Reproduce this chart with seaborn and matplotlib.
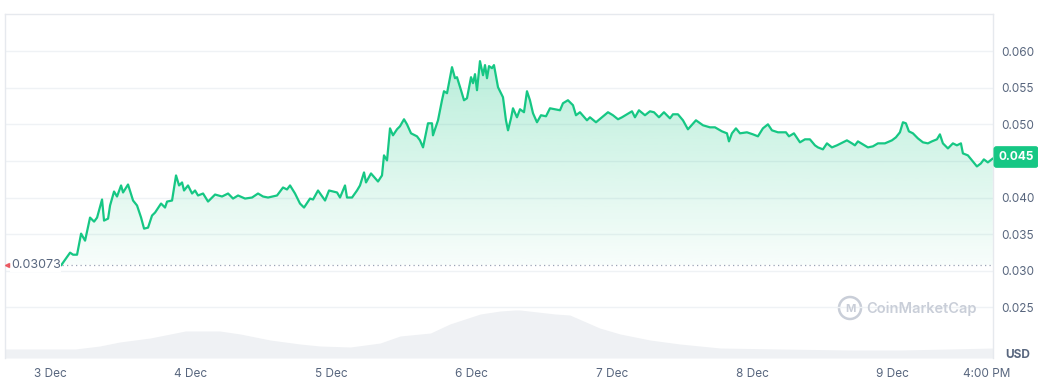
import numpy as np
import pandas as pd
import matplotlib
matplotlib.use("Agg")
import matplotlib.pyplot as plt
import seaborn as sns
from matplotlib.patches import Ellipse

# hours since 3 Dec 00:00 and price in USD
hours = [1.88, 2.56, 3.42, 3.93, 4.61, 5.30, 5.98, 6.83, 7.52, 8.03, 8.88, 9.22, 9.91, 10.25,
         10.93, 11.44, 12.13, 12.47, 13.32, 14.18, 14.86, 15.55, 16.06, 16.74, 17.42, 17.94,
         18.96, 19.64, 19.99, 20.84, 21.52, 22.04, 22.55, 22.89, 23.57, 24.26, 24.77, 25.28,
         26.14, 26.99, 28.19, 29.38, 30.41, 31.26, 32.12, 33.31, 34.51, 35.53, 36.38, 37.24,
         38.78, 39.80, 40.48, 41.00, 41.85, 42.70, 43.39, 44.41, 44.93, 45.78, 46.98, 47.66,
         49.03, 49.54, 50.39, 50.73, 51.59, 52.44, 52.95, 53.64, 53.98, 54.83, 56.03, 56.71,
         57.05, 57.57, 58.08, 58.59, 59.27, 59.78, 60.47, 60.98, 61.67, 62.69, 63.20, 63.72,
         64.57, 65.25, 65.42, 66.28, 66.96, 67.30, 67.82, 68.67, 69.18, 69.52, 70.21, 70.72,
         71.23, 71.92, 72.26, 72.60, 72.94, 73.45, 73.97, 74.31, 74.65, 74.99, 75.50, 75.84,
         76.53, 77.38, 77.89, 78.24, 78.75, 79.09, 79.77, 80.29, 80.97, 81.48, 81.99, 82.51,
         83.19, 83.87, 84.73, 85.41, 86.26, 87.12, 87.63, 88.48, 89.34, 89.85, 90.53, 91.73,
         92.24, 93.27, 94.29, 95.32, 96.17, 97.03, 97.71, 98.56, 99.42, 99.93, 100.61, 101.64,
         102.49, 103.18, 104.03, 104.88, 105.91, 106.42, 107.27, 108.13, 108.98, 110.35,
         111.55, 112.74, 113.60, 114.79, 115.65, 115.99, 116.50, 117.18, 117.87, 119.06,
         120.09, 120.94, 121.79, 122.65, 123.33, 124.36, 125.72, 126.24, 127.09, 128.12,
         128.97, 129.82, 130.68, 131.19, 132.04, 132.73, 133.58, 134.44, 135.46, 136.14,
         137.00, 137.51, 138.02, 138.88, 139.73, 140.58, 141.44, 142.63, 143.83, 144.51,
         145.20, 145.71, 146.22, 146.73, 147.42, 148.27, 149.13, 149.98, 150.66, 151.52,
         152.03, 152.54, 153.40, 154.25, 154.93, 155.62, 155.96, 156.81, 157.67, 158.35,
         159.03, 159.54, 160.22, 161.08]
prices = [0.03073, 0.03151, 0.03247, 0.03219, 0.03219, 0.03507, 0.03411, 0.03726, 0.03671,
          0.03726, 0.03973, 0.03685, 0.03712, 0.03891, 0.04082, 0.04014, 0.04165, 0.04069,
          0.04178, 0.03959, 0.03891, 0.03726, 0.03575, 0.03589, 0.03754, 0.03795, 0.03918,
          0.03863, 0.03945, 0.03959, 0.04302, 0.04165, 0.04206, 0.04096, 0.04165, 0.04055,
          0.04096, 0.04028, 0.04055, 0.03945, 0.04041, 0.04014, 0.04055, 0.03986, 0.04028,
          0.03986, 0.04000, 0.04055, 0.04014, 0.04000, 0.04028, 0.04137, 0.04110, 0.04165,
          0.04055, 0.03918, 0.03863, 0.03986, 0.03973, 0.04096, 0.03959, 0.04096, 0.04069,
          0.04000, 0.04165, 0.04000, 0.04000, 0.04096, 0.04165, 0.04343, 0.04206, 0.04329,
          0.04219, 0.04302, 0.04576, 0.04507, 0.04945, 0.04850, 0.04932, 0.04973, 0.05069,
          0.05000, 0.04877, 0.04836, 0.04781, 0.04685, 0.05014, 0.05014, 0.04850, 0.05055,
          0.05329, 0.05452, 0.05425, 0.05781, 0.05630, 0.05644, 0.05466, 0.05329, 0.05356,
          0.05644, 0.05562, 0.05685, 0.05466, 0.05863, 0.05671, 0.05809, 0.05630, 0.05795,
          0.05767, 0.05809, 0.05507, 0.05370, 0.05055, 0.04918, 0.05082, 0.05219, 0.05096,
          0.05206, 0.05165, 0.05452, 0.05329, 0.05151, 0.05028, 0.05124, 0.05110, 0.05219,
          0.05206, 0.05192, 0.05288, 0.05329, 0.05261, 0.05124, 0.05165, 0.05055, 0.05096,
          0.05028, 0.05096, 0.05165, 0.05124, 0.05069, 0.05096, 0.05137, 0.05178, 0.05096,
          0.05192, 0.05124, 0.05178, 0.05165, 0.05096, 0.05165, 0.05082, 0.05137, 0.05137,
          0.05055, 0.04932, 0.05055, 0.04987, 0.04959, 0.04959, 0.04904, 0.04877, 0.04767,
          0.04877, 0.04945, 0.04877, 0.04891, 0.04863, 0.04836, 0.04945, 0.05000, 0.04918,
          0.04891, 0.04891, 0.04836, 0.04877, 0.04754, 0.04795, 0.04795, 0.04713, 0.04685,
          0.04658, 0.04740, 0.04685, 0.04713, 0.04754, 0.04781, 0.04740, 0.04713, 0.04767,
          0.04726, 0.04685, 0.04699, 0.04740, 0.04740, 0.04781, 0.04822, 0.04891, 0.05028,
          0.05014, 0.04904, 0.04877, 0.04808, 0.04754, 0.04740, 0.04767, 0.04795, 0.04863,
          0.04740, 0.04671, 0.04740, 0.04713, 0.04740, 0.04603, 0.04576, 0.04493, 0.04425,
          0.04466, 0.04521, 0.04480, 0.04534]

# volume (million USD)
vol_hours = [-7.7, 4.3, 8.5, 11.9, 17.1, 21.4, 23.1, 29.0, 32.5, 37.6, 42.7, 46.1, 51.3,
             56.4, 59.8, 65.0, 68.3, 73.5, 76.9, 79.4, 80.3, 86.3, 88.8, 93.9, 97.4, 102.5,
             107.6, 114.5, 124.7, 136.7, 145.2, 153.7, 161.1]
volume = [0.9, 0.9, 1.2, 1.6, 2.0, 2.5, 2.7, 2.7, 2.4, 1.8, 1.4, 1.2, 1.1, 1.5, 2.2, 2.5,
          3.4, 4.4, 4.7, 4.8, 4.8, 4.4, 4.3, 3.0, 2.4, 1.8, 1.4, 1.0, 0.9, 0.8, 0.8, 0.9, 1.0]

tick_hours = [0, 24, 48, 72, 96, 120, 144, 160]
tick_labels = ["3 Dec", "4 Dec", "5 Dec", "6 Dec", "7 Dec", "8 Dec", "9 Dec", "4:00 PM"]
price_ticks = [0.025, 0.030, 0.035, 0.040, 0.045, 0.050, 0.055, 0.060]
open_price = 0.03073
last_price = 0.045
last_label = "0.045"

GREEN = "#16c784"
GREY_TXT = "#58667e"
GRID = "#eff2f5"

sns.set_theme(style="white")
plt.rcParams["font.family"] = ["Inter", "DejaVu Sans"]

df = pd.DataFrame({"hour": hours, "price": prices})
vol = pd.DataFrame({"hour": vol_hours, "volume": volume})

fig = plt.figure(figsize=(10.38, 3.82), dpi=100)
ax = fig.add_axes([5 / 1038, 1 - 358 / 382, 988 / 1038, 344 / 382])
axv = ax.twinx()
ax.set_zorder(axv.get_zorder() + 1)
ax.patch.set_visible(False)

# volume area at the bottom
axv.fill_between(vol["hour"], vol["volume"], 0, color="#eff1f4", lw=0)
axv.set_ylim(0, 34.4)
axv.set_yticks([])
for s in axv.spines.values():
    s.set_visible(False)

# gradient fill under the price line
poly = ax.fill_between(df["hour"], df["price"], open_price, color="none", lw=0)
rgba = np.zeros((256, 1, 4))
rgba[..., :3] = matplotlib.colors.to_rgb(GREEN)
rgba[..., 3] = np.linspace(0.30, 0.03, 256)[:, None]
im = ax.imshow(rgba, extent=[-8, 162, open_price, max(prices)], aspect="auto",
               origin="upper", zorder=1)
im.set_clip_path(poly.get_paths()[0], ax.transData)

sns.lineplot(data=df, x="hour", y="price", color=GREEN, linewidth=1.6,
             estimator=None, errorbar=None, ax=ax, zorder=3)

ax.axhline(open_price, xmin=3 / 988, xmax=1, color="#9aa3b5", lw=0.9,
           linestyle=(0, (1, 2.6)), zorder=2)

ax.set_xlim(-7.7, 161.1)
ax.set_ylim(0.01808, 0.06507)
ax.set_yticks(price_ticks)
# the current-price badge sits over the 0.045 tick, so that tick has no own label
ax.set_yticklabels(["" if abs(p - last_price) < 1e-9 else f"{p:.3f}" for p in price_ticks])
ax.yaxis.tick_right()
ax.set_xticks(tick_hours)
ax.set_xticklabels(tick_labels)
ax.tick_params(axis="both", length=0, labelsize=8.5, labelcolor=GREY_TXT)
ax.tick_params(axis="y", pad=6)
ax.tick_params(axis="x", pad=7)
ax.set_xlabel("")
ax.set_ylabel("")
ax.grid(axis="y", color=GRID, lw=1)
ax.grid(axis="x", visible=False)
for side in ["top", "left", "right"]:
    ax.spines[side].set_color("#e6e9ee")
    ax.spines[side].set_linewidth(1)
ax.spines["bottom"].set_visible(False)

# labels on the edges
fig.text(1016 / 1038, 1 - 157 / 382, last_label, color="white", fontsize=8.5,
         fontweight="bold", ha="center", va="center",
         bbox=dict(boxstyle="round,pad=0.35,rounding_size=0.2", fc=GREEN, ec=GREEN))
fig.text(1018 / 1038, 1 - 355 / 382, "USD", color=GREY_TXT, fontsize=8.5,
         fontweight="bold", ha="center", va="center")
ax.text(-6.7, open_price, "0.03073", color=GREY_TXT, fontsize=9, ha="left",
        va="center", zorder=4, bbox=dict(fc="white", ec="none", pad=0.5))
ax.plot([-7.3], [open_price], marker="<", ms=3, color="#ea3943", alpha=0.7, zorder=5)

# watermark
fig.add_artist(Ellipse((850 / 1038, 1 - 308 / 382), 22 / 1038, 22 / 382,
                       transform=fig.transFigure, fill=False, ec="#c9ced8", lw=1.8))
fig.text(850 / 1038, 1 - 309 / 382, "M", color="#c9ced8", fontsize=8, fontweight="bold",
         ha="center", va="center")
fig.text(866 / 1038, 1 - 309 / 382, "CoinMarketCap", color="#c9ced8", fontsize=10.5,
         fontweight="semibold", ha="left", va="center")

fig.savefig("out.png", dpi=100)
